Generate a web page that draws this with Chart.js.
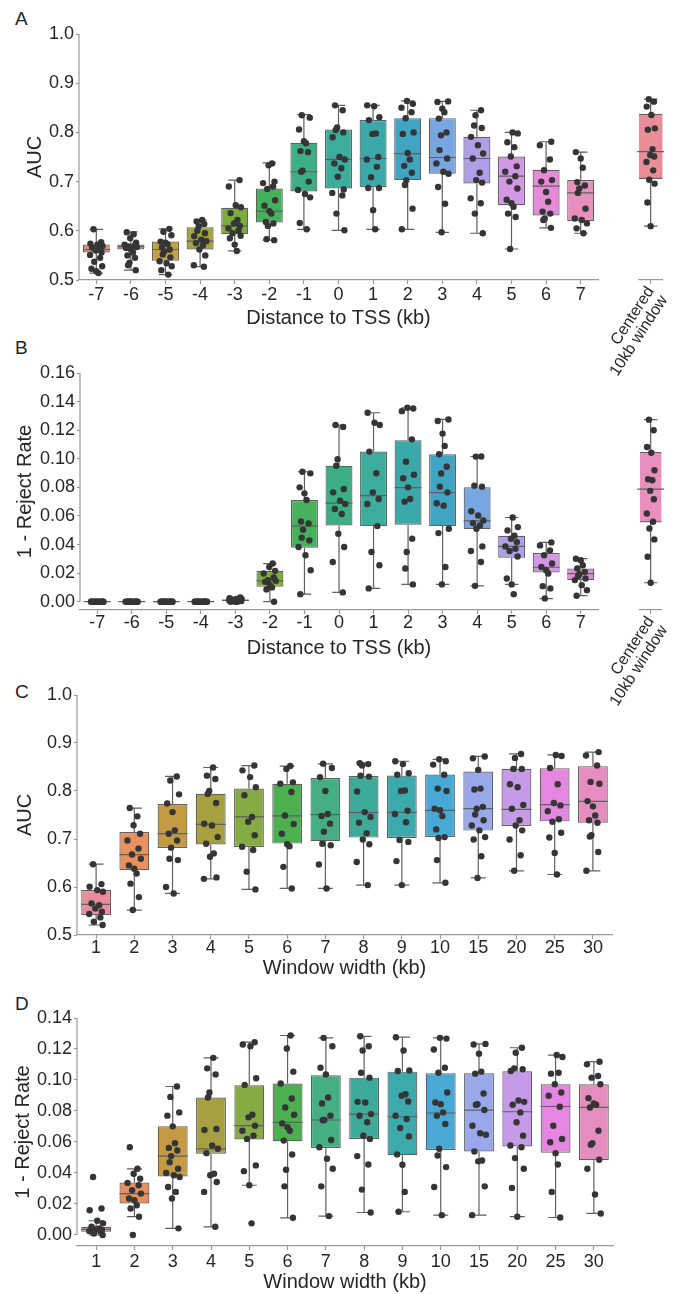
<!DOCTYPE html>
<html>
<head>
<meta charset="utf-8">
<script src="https://cdn.jsdelivr.net/npm/chart.js@4.4.0/dist/chart.umd.min.js"></script>
<style>
  html, body { margin: 0; padding: 0; background: #fff; }
  #page { position: relative; width: 683px; height: 1294px; overflow: hidden;
          font-family: 'Liberation Sans', Arial, sans-serif; color: #262626; }
  canvas { position: absolute; }
  .letter { position: absolute; font-size: 19px; line-height: 1; }
</style>
</head>
<body>
<div id="page">
  <div class="letter" style="left:15px;top:9px">A</div>
  <div class="letter" style="left:15px;top:338px">B</div>
  <div class="letter" style="left:15px;top:682px">C</div>
  <div class="letter" style="left:15px;top:994px">D</div>

  <canvas id="aucTss" width="610" height="307" style="left:0;top:23px"></canvas>
  <canvas id="aucCenter" width="123" height="382" style="left:560px;top:23px"></canvas>
  <canvas id="rejTss" width="610" height="298" style="left:0;top:362px"></canvas>
  <canvas id="rejCenter" width="123" height="373" style="left:560px;top:362px"></canvas>
  <canvas id="aucWidth" width="624" height="296" style="left:0;top:684px"></canvas>
  <canvas id="rejWidth" width="625" height="287" style="left:0;top:1007px"></canvas>
</div>

<script>
// ---- data -------------------------------------------------------------------

const TSS_LABELS = ['-7', '-6', '-5', '-4', '-3', '-2', '-1', '0', '1', '2', '3', '4', '5', '6', '7'];
const CENTER_LABELS = [['Centered', '10kb window']];
const WIDTH_LABELS = ['1', '2', '3', '4', '5', '6', '7', '8', '9', '10', '15', '20', '25', '30'];

const AUC_TICKS = [0.5, 0.6, 0.7, 0.8, 0.9, 1.0];
const REJ_TSS_TICKS = [0, 0.02, 0.04, 0.06, 0.08, 0.10, 0.12, 0.14, 0.16];
const REJ_WIDTH_TICKS = [0, 0.02, 0.04, 0.06, 0.08, 0.10, 0.12, 0.14];

// each box: [low whisker, q1, median, q3, high whisker]
const AUC_TSS_BOX = [
  [0.514, 0.556, 0.562, 0.572, 0.603], [0.520, 0.562, 0.568, 0.572, 0.598],
  [0.511, 0.539, 0.562, 0.578, 0.604], [0.527, 0.562, 0.579, 0.607, 0.622],
  [0.559, 0.593, 0.610, 0.647, 0.703], [0.581, 0.617, 0.640, 0.686, 0.738],
  [0.603, 0.680, 0.720, 0.779, 0.836], [0.601, 0.686, 0.745, 0.806, 0.855],
  [0.603, 0.689, 0.747, 0.825, 0.855], [0.603, 0.703, 0.757, 0.829, 0.864],
  [0.597, 0.716, 0.749, 0.829, 0.863], [0.595, 0.696, 0.747, 0.791, 0.845],
  [0.563, 0.652, 0.711, 0.751, 0.800], [0.606, 0.631, 0.691, 0.724, 0.781],
  [0.595, 0.620, 0.677, 0.703, 0.760]
];
const AUC_TSS_POINTS = [
  [0.603, 0.577, 0.574, 0.572, 0.569, 0.566, 0.563, 0.56, 0.556, 0.551, 0.545, 0.537, 0.528, 0.523, 0.518, 0.514],
  [0.597, 0.593, 0.585, 0.576, 0.572, 0.57, 0.568, 0.567, 0.565, 0.562, 0.556, 0.55, 0.545, 0.535, 0.53, 0.52],
  [0.604, 0.598, 0.591, 0.578, 0.576, 0.573, 0.566, 0.562, 0.558, 0.552, 0.546, 0.538, 0.534, 0.528, 0.52, 0.511],
  [0.622, 0.619, 0.614, 0.609, 0.6, 0.595, 0.589, 0.582, 0.579, 0.575, 0.57, 0.562, 0.55, 0.53, 0.527],
  [0.703, 0.69, 0.652, 0.648, 0.636, 0.622, 0.615, 0.61, 0.605, 0.6, 0.595, 0.59, 0.585, 0.572, 0.559],
  [0.737, 0.733, 0.7, 0.697, 0.69, 0.685, 0.662, 0.651, 0.64, 0.635, 0.618, 0.615, 0.61, 0.583, 0.581],
  [0.835, 0.83, 0.806, 0.782, 0.778, 0.762, 0.76, 0.722, 0.72, 0.7, 0.683, 0.675, 0.668, 0.616, 0.603],
  [0.855, 0.845, 0.81, 0.805, 0.8, 0.79, 0.75, 0.745, 0.737, 0.727, 0.71, 0.684, 0.677, 0.672, 0.635, 0.601],
  [0.855, 0.853, 0.831, 0.825, 0.798, 0.797, 0.75, 0.745, 0.73, 0.709, 0.687, 0.687, 0.642, 0.603],
  [0.864, 0.858, 0.85, 0.841, 0.829, 0.8, 0.797, 0.758, 0.745, 0.732, 0.718, 0.703, 0.693, 0.645, 0.603],
  [0.863, 0.862, 0.848, 0.841, 0.828, 0.8, 0.794, 0.764, 0.747, 0.737, 0.72, 0.716, 0.689, 0.655, 0.597],
  [0.845, 0.835, 0.814, 0.809, 0.791, 0.774, 0.757, 0.747, 0.718, 0.703, 0.698, 0.666, 0.656, 0.635, 0.595],
  [0.8, 0.798, 0.78, 0.77, 0.751, 0.731, 0.72, 0.711, 0.7, 0.686, 0.663, 0.656, 0.649, 0.635, 0.628, 0.563],
  [0.781, 0.774, 0.745, 0.723, 0.703, 0.7, 0.679, 0.659, 0.639, 0.635, 0.625, 0.622, 0.606],
  [0.76, 0.747, 0.728, 0.699, 0.692, 0.686, 0.677, 0.645, 0.625, 0.622, 0.615, 0.605, 0.595]
];
const AUC_CENTER_BOX = [[0.609, 0.705, 0.760, 0.836, 0.866]];
const AUC_CENTER_POINTS = [[0.866, 0.861, 0.851, 0.834, 0.807, 0.804, 0.765, 0.753, 0.75, 0.739, 0.722, 0.703, 0.695, 0.657, 0.609]];

const REJ_TSS_BOX = [
  [0, 0, 0, 0, 0], [0, 0, 0, 0, 0], [0, 0, 0, 0, 0], [0, 0, 0, 0, 0],
  [0, 0.0005, 0.001, 0.0015, 0.003], [0, 0.0104, 0.0146, 0.0216, 0.0267],
  [0.0053, 0.0378, 0.0529, 0.0712, 0.0909], [0.0065, 0.0533, 0.0689, 0.0951, 0.1236],
  [0.0093, 0.0529, 0.0742, 0.105, 0.1322], [0.0121, 0.0538, 0.0798, 0.1129, 0.1357],
  [0.0121, 0.0529, 0.0763, 0.1032, 0.1275], [0.0111, 0.0508, 0.0566, 0.08, 0.1016],
  [0.0121, 0.0308, 0.0387, 0.0461, 0.0589], [0.0021, 0.0204, 0.0241, 0.0341, 0.0415],
  [0.0042, 0.0151, 0.0197, 0.0232, 0.0301]
];
const REJ_TSS_POINTS = [
  [0, 0, 0, 0, 0, 0, 0, 0, 0, 0, 0, 0, 0, 0, 0],
  [0, 0, 0, 0, 0, 0, 0, 0, 0, 0, 0, 0, 0, 0, 0],
  [0, 0, 0, 0, 0, 0, 0, 0, 0, 0, 0, 0, 0, 0, 0],
  [0, 0, 0, 0, 0, 0, 0, 0, 0, 0, 0, 0, 0, 0, 0],
  [0.003, 0.0025, 0.002, 0.002, 0.0015, 0.0015, 0.001, 0.001, 0.001, 0.001, 0.0005, 0.0005, 0, 0, 0],
  [0.0267, 0.0243, 0.0216, 0.0197, 0.0169, 0.0151, 0.0146, 0.0139, 0.0116, 0.01, 0.0086, 0],
  [0.0909, 0.0898, 0.08, 0.0758, 0.0712, 0.0561, 0.0547, 0.0503, 0.0448, 0.0429, 0.0383, 0.0325, 0.022, 0.0053],
  [0.1236, 0.1223, 0.0997, 0.0951, 0.0788, 0.0765, 0.0707, 0.0684, 0.0649, 0.0614, 0.0475, 0.0383, 0.0278, 0.0065],
  [0.1322, 0.1252, 0.1236, 0.105, 0.0899, 0.0765, 0.0719, 0.0684, 0.0529, 0.0348, 0.0255, 0.0093],
  [0.1357, 0.1352, 0.1333, 0.1136, 0.0979, 0.0888, 0.0864, 0.08, 0.0719, 0.07, 0.0441, 0.0348, 0.0232, 0.0121],
  [0.1275, 0.1264, 0.1176, 0.109, 0.1032, 0.0944, 0.0897, 0.0805, 0.0765, 0.0689, 0.0672, 0.051, 0.048, 0.0243, 0.0121],
  [0.1016, 0.1015, 0.0812, 0.0805, 0.0633, 0.0603, 0.0568, 0.055, 0.0533, 0.051, 0.0387, 0.0355, 0.0278, 0.0111],
  [0.0589, 0.0522, 0.0499, 0.0461, 0.044, 0.0417, 0.0387, 0.0371, 0.0355, 0.0316, 0.0162, 0.0121, 0.0053],
  [0.0415, 0.0394, 0.0359, 0.0325, 0.0267, 0.0243, 0.022, 0.0197, 0.0109, 0.0093, 0.0023],
  [0.0301, 0.029, 0.0255, 0.0232, 0.0209, 0.0192, 0.0179, 0.0162, 0.0151, 0.0116, 0.0081, 0.0042]
];
const REJ_CENTER_BOX = [[0.0132, 0.0554, 0.0784, 0.1041, 0.1268]];
const REJ_CENTER_POINTS = [[0.1268, 0.1194, 0.1078, 0.1037, 0.0916, 0.0853, 0.0846, 0.0772, 0.0714, 0.0614, 0.0557, 0.051, 0.0434, 0.0313, 0.0132]];

const AUC_WIDTH_BOX = [
  [0.5208, 0.5416, 0.5637, 0.5935, 0.6475], [0.552, 0.635, 0.6676, 0.7147, 0.7645],
  [0.5866, 0.6814, 0.7112, 0.7729, 0.8303], [0.617, 0.6884, 0.7306, 0.7943, 0.849],
  [0.595, 0.6835, 0.746, 0.805, 0.853], [0.597, 0.6904, 0.748, 0.815, 0.852],
  [0.597, 0.6953, 0.7507, 0.8269, 0.8567], [0.6039, 0.7029, 0.7549, 0.831, 0.8587],
  [0.6039, 0.7022, 0.7556, 0.8324, 0.862], [0.6087, 0.7043, 0.7597, 0.8345, 0.8657],
  [0.619, 0.7175, 0.7632, 0.8407, 0.872], [0.6337, 0.7271, 0.7618, 0.8463, 0.8774],
  [0.626, 0.7368, 0.7715, 0.8476, 0.8753], [0.6337, 0.7341, 0.7784, 0.8518, 0.8809]
];
const AUC_WIDTH_POINTS = [
  [0.6475, 0.606, 0.6004, 0.5935, 0.59, 0.5658, 0.5623, 0.5554, 0.5485, 0.5436, 0.5367, 0.5277, 0.5208],
  [0.7645, 0.7472, 0.7285, 0.711, 0.697, 0.68, 0.6676, 0.659, 0.645, 0.638, 0.628, 0.607, 0.579, 0.552],
  [0.8303, 0.822, 0.793, 0.774, 0.756, 0.718, 0.711, 0.697, 0.682, 0.659, 0.656, 0.6, 0.5866],
  [0.849, 0.832, 0.825, 0.8, 0.794, 0.775, 0.732, 0.728, 0.704, 0.69, 0.67, 0.663, 0.62, 0.617],
  [0.853, 0.843, 0.829, 0.808, 0.791, 0.746, 0.736, 0.708, 0.684, 0.677, 0.632, 0.595],
  [0.852, 0.846, 0.818, 0.815, 0.798, 0.749, 0.731, 0.711, 0.689, 0.685, 0.642, 0.597],
  [0.857, 0.848, 0.829, 0.8, 0.752, 0.748, 0.732, 0.715, 0.69, 0.687, 0.647, 0.597],
  [0.858, 0.856, 0.853, 0.832, 0.83, 0.799, 0.756, 0.746, 0.734, 0.712, 0.699, 0.689, 0.652, 0.604],
  [0.862, 0.856, 0.837, 0.834, 0.801, 0.8, 0.759, 0.752, 0.735, 0.698, 0.694, 0.654, 0.604],
  [0.866, 0.862, 0.855, 0.834, 0.805, 0.8, 0.763, 0.76, 0.748, 0.72, 0.704, 0.702, 0.656, 0.609],
  [0.872, 0.868, 0.844, 0.805, 0.803, 0.767, 0.763, 0.751, 0.739, 0.728, 0.718, 0.704, 0.699, 0.664, 0.619],
  [0.877, 0.869, 0.846, 0.846, 0.814, 0.808, 0.771, 0.763, 0.739, 0.728, 0.718, 0.699, 0.666, 0.634],
  [0.875, 0.873, 0.848, 0.814, 0.775, 0.77, 0.758, 0.741, 0.736, 0.713, 0.703, 0.671, 0.626],
  [0.881, 0.874, 0.853, 0.819, 0.815, 0.779, 0.768, 0.749, 0.739, 0.734, 0.708, 0.705, 0.673, 0.634]
];

const REJ_WIDTH_BOX = [
  [0, 0.0021, 0.0036, 0.0053, 0.0092], [0.0118, 0.0203, 0.0267, 0.0338, 0.0427],
  [0.0043, 0.0378, 0.0509, 0.0701, 0.0958], [0.0053, 0.0524, 0.0556, 0.0887, 0.1143],
  [0.0321, 0.0616, 0.0705, 0.0966, 0.1244], [0.0111, 0.0605, 0.0727, 0.0977, 0.1287],
  [0.0122, 0.0562, 0.0742, 0.103, 0.1272], [0.0145, 0.062, 0.078, 0.1015, 0.1282],
  [0.015, 0.0515, 0.0763, 0.1054, 0.1276], [0.0128, 0.0549, 0.0787, 0.1043, 0.1272],
  [0.0128, 0.0539, 0.0806, 0.1043, 0.1233], [0.0118, 0.0571, 0.0795, 0.1056, 0.1208],
  [0.0113, 0.053, 0.0829, 0.0973, 0.1161], [0.0139, 0.0483, 0.0823, 0.0973, 0.1118]
];
const REJ_WIDTH_POINTS = [
  [0.0374, 0.0171, 0.016, 0.0092, 0.0075, 0.0053, 0.0043, 0.0036, 0.0032, 0.0025, 0.0021, 0.001, 0],
  [0.0566, 0.0427, 0.0395, 0.0363, 0.0336, 0.0321, 0.0289, 0.0267, 0.0235, 0.0224, 0.0192, 0.0171, 0.0118, 0],
  [0.0958, 0.0891, 0.0791, 0.077, 0.0701, 0.0592, 0.0562, 0.0545, 0.0509, 0.047, 0.0427, 0.04, 0.0385, 0.0374, 0.031, 0.0278, 0.0235, 0.0043],
  [0.1143, 0.1075, 0.1036, 0.0919, 0.0887, 0.0684, 0.0677, 0.0577, 0.0556, 0.0528, 0.0395, 0.0385, 0.0342, 0.0278, 0.0053],
  [0.1244, 0.1229, 0.1218, 0.1011, 0.0968, 0.0776, 0.0759, 0.0705, 0.0673, 0.0641, 0.062, 0.0449, 0.0412, 0.0321, 0.0075],
  [0.1287, 0.1203, 0.1054, 0.0977, 0.0881, 0.0823, 0.0776, 0.072, 0.0695, 0.0673, 0.0609, 0.0519, 0.0421, 0.0314, 0.0111],
  [0.1272, 0.1218, 0.1079, 0.1036, 0.0887, 0.0848, 0.0769, 0.0742, 0.074, 0.0613, 0.0566, 0.0492, 0.0427, 0.0314, 0.0122],
  [0.1282, 0.1218, 0.119, 0.1047, 0.1015, 0.0859, 0.0855, 0.078, 0.0769, 0.0727, 0.0641, 0.062, 0.0509, 0.0455, 0.0293, 0.0145],
  [0.1276, 0.119, 0.1062, 0.1058, 0.0908, 0.0898, 0.0861, 0.0769, 0.0748, 0.069, 0.0635, 0.052, 0.0453, 0.0278, 0.015],
  [0.1272, 0.1267, 0.1197, 0.1079, 0.1047, 0.0919, 0.0855, 0.0844, 0.0791, 0.0769, 0.0716, 0.0556, 0.0513, 0.0438, 0.031, 0.0128],
  [0.1233, 0.1229, 0.1169, 0.1054, 0.1041, 0.0913, 0.0844, 0.084, 0.0806, 0.0705, 0.0656, 0.0647, 0.0539, 0.0481, 0.0475, 0.0314, 0.0128],
  [0.1208, 0.1176, 0.1075, 0.1069, 0.1058, 0.0868, 0.0859, 0.084, 0.0791, 0.0727, 0.0641, 0.0577, 0.0566, 0.0496, 0.0427, 0.0304, 0.0118],
  [0.1161, 0.1148, 0.1041, 0.1047, 0.0973, 0.0919, 0.0898, 0.0827, 0.0705, 0.062, 0.0598, 0.0528, 0.0455, 0.0278, 0.0113],
  [0.1118, 0.1101, 0.1026, 0.1015, 0.0973, 0.0883, 0.0849, 0.084, 0.0823, 0.0673, 0.0592, 0.0583, 0.0485, 0.0427, 0.0261, 0.0139]
];

// ---- styling ----------------------------------------------------------------

const TSS_COLORS_AUC = ['#e88e76', '#d69a44', '#c2a13e', '#a3a43a', '#7cac3e', '#45b15d', '#3caf84', '#3aad9c',
                        '#3ba8a9', '#3fa5c3', '#78a6e2', '#ae9fe6', '#d497e6', '#e68bd9', '#e88fbd'];
const TSS_COLORS_REJ = ['#e98e98', '#e88e76', '#d69a44', '#c2a13e', '#a3a43a', '#7cac3e', '#45b15d', '#3caf84',
                        '#3aad9c', '#3ba8a9', '#3fa5c3', '#78a6e2', '#ae9fe6', '#d497e6', '#e68bd9'];
const WIDTH_COLORS = ['#e98c9c', '#e8905e', '#c49a45', '#a6a040', '#86ab45', '#4cb050', '#46ae83', '#3eab9a',
                      '#3ca9ad', '#49a9d6', '#99a8ea', '#c59ae6', '#e586e0', '#e68dc0'];

// strip-plot spread, in category units
const JITTER = [-0.08, 0.14, -0.17, 0.03, 0.18, -0.12, 0.08, -0.02, 0.15, -0.18, 0.11, -0.06, 0.17, -0.14, 0.0, 0.06, -0.1, 0.12, -0.04];

const INK = '#262626';
const AXIS = '#9a9a9a';
const LINE = '#606060';
const DOT = '#353535';

Chart.defaults.font.family = "'Liberation Sans', Arial, sans-serif";
Chart.defaults.color = INK;

const boxStats = new WeakMap();   // canvas -> five-number summaries

// whiskers, caps and median lines on top of each floating bar
const boxWhiskers = {
  id: 'boxWhiskers',
  afterDatasetDraw(chart, args) {
    if (args.meta.type !== 'bar') return;
    const boxes = boxStats.get(chart.canvas);
    const y = chart.scales.y;
    const ctx = chart.ctx;
    ctx.save();
    ctx.strokeStyle = LINE;
    ctx.lineWidth = 1.2;
    args.meta.data.forEach((bar, i) => {
      const [lo, q1, med, q3, hi] = boxes[i];
      const x = bar.x, half = bar.width / 2, cap = bar.width / 4;
      const pLo = y.getPixelForValue(lo), pHi = y.getPixelForValue(hi);
      const pMed = y.getPixelForValue(med);
      ctx.beginPath();
      ctx.moveTo(x, y.getPixelForValue(q3)); ctx.lineTo(x, pHi);
      ctx.moveTo(x, y.getPixelForValue(q1)); ctx.lineTo(x, pLo);
      ctx.moveTo(x - cap, pHi); ctx.lineTo(x + cap, pHi);
      ctx.moveTo(x - cap, pLo); ctx.lineTo(x + cap, pLo);
      ctx.moveTo(x - half, pMed); ctx.lineTo(x + half, pMed);
      ctx.stroke();
    });
    ctx.restore();
  }
};

// left spine running only between the first and last tick
const leftSpine = {
  id: 'leftSpine',
  beforeDatasetsDraw(chart, args, opts) {
    if (!opts.show) return;
    const y = chart.scales.y;
    const ticks = y.ticks;
    const ctx = chart.ctx;
    const x = chart.chartArea.left;
    ctx.save();
    ctx.strokeStyle = AXIS;
    ctx.lineWidth = 1.2;
    ctx.beginPath();
    ctx.moveTo(x, y.getPixelForValue(ticks[ticks.length - 1].value));
    ctx.lineTo(x, y.getPixelForValue(ticks[0].value));
    ctx.stroke();
    ctx.restore();
  }
};

function boxChart(id, c) {
  const n = c.labels.length;
  const canvas = document.getElementById(id);
  const hasY = c.yTitle != null;
  const dots = [];
  c.points.forEach((vals, i) => vals.forEach((v, k) => {
    dots.push({ x: i + JITTER[(k + 5 * i) % JITTER.length], y: v });
  }));
  boxStats.set(canvas, c.boxes);

  return new Chart(canvas, {
    type: 'bar',
    data: {
      datasets: [
        { type: 'scatter', data: dots, pointRadius: 3.2, pointHoverRadius: 3.2,
          pointBackgroundColor: DOT, pointBorderWidth: 0 },
        { type: 'bar', data: c.boxes.map((b, i) => ({ x: i, y: [b[1], b[3]] })),
          backgroundColor: c.colors, borderColor: LINE, borderWidth: 1.2, borderSkipped: false,
          grouped: false, barPercentage: 0.78, categoryPercentage: 1, barThickness: c.barWidth }
      ]
    },
    options: {
      responsive: false,
      animation: false,
      events: [],
      layout: { autoPadding: false, padding: c.padding },
      plugins: {
        legend: { display: false },
        tooltip: { enabled: false },
        leftSpine: { show: hasY }
      },
      scales: {
        x: {
          type: 'linear', offset: false,
          min: -0.5, max: n - 0.5,
          afterBuildTicks: s => { s.ticks = c.labels.map((l, i) => ({ value: i })); },
          grid: { offset: false, drawOnChartArea: false, tickLength: 4, tickColor: AXIS, tickWidth: 1.2 },
          border: { color: AXIS, width: 1.2 },
          ticks: {
            color: INK, padding: c.xTickPad, autoSkip: false,
            minRotation: c.rotate || 0, maxRotation: c.rotate || 0,
            font: { size: c.tickSize || 18, lineHeight: 1 },
            callback: v => c.labels[Math.round(v)]
          },
          title: { display: !!c.xTitle, text: c.xTitle || '', color: INK, padding: 0, font: { size: 20 } },
          afterFit: s => { s.height = c.xHeight; }
        },
        y: {
          display: hasY,
          min: c.min, max: c.max,
          afterBuildTicks: s => { s.ticks = c.ticks.map(v => ({ value: v })); },
          grid: { drawOnChartArea: false, tickLength: 3, tickColor: AXIS, tickWidth: 1.2 },
          border: { display: false },
          ticks: { color: INK, padding: 2, font: { size: 18, lineHeight: 1 },
                   callback: v => v.toFixed(c.digits) },
          title: { display: hasY, text: c.yTitle || '', color: INK,
                   padding: { top: c.yTitlePad || 0, bottom: 0 }, font: { size: 20 } },
          afterFit: s => { if (hasY) s.width = c.yWidth; }
        }
      }
    },
    plugins: [boxWhiskers, leftSpine]
  });
}

// A: AUC against distance to the TSS
boxChart('aucTss', {
  labels: TSS_LABELS, boxes: AUC_TSS_BOX, points: AUC_TSS_POINTS, colors: TSS_COLORS_AUC,
  ticks: AUC_TICKS, min: 0.5, max: 1.0, digits: 1,
  yTitle: 'AUC', yTitlePad: 23, yWidth: 79, xTitle: 'Distance to TSS (kb)',
  xHeight: 50, xTickPad: 2, padding: { top: 10, right: 12, left: 0, bottom: 0 }
});
boxChart('aucCenter', {
  labels: CENTER_LABELS, boxes: AUC_CENTER_BOX, points: AUC_CENTER_POINTS, colors: ['#e98e98'],
  ticks: AUC_TICKS, min: 0.5, max: 1.0, digits: 1, barWidth: 27,
  xHeight: 125, xTickPad: 0, rotate: 57, tickSize: 16,
  padding: { top: 10, right: 11, left: 79, bottom: 0 }
});

// B: 1 - reject rate against distance to the TSS
boxChart('rejTss', {
  labels: TSS_LABELS, boxes: REJ_TSS_BOX, points: REJ_TSS_POINTS, colors: TSS_COLORS_REJ,
  ticks: REJ_TSS_TICKS, min: -0.0058, max: 0.16, digits: 2,
  yTitle: '1 - Reject Rate', yTitlePad: 13, yWidth: 80, xTitle: 'Distance to TSS (kb)',
  xHeight: 50, xTickPad: 0, padding: { top: 10, right: 12, left: 0, bottom: 0 }
});
boxChart('rejCenter', {
  labels: CENTER_LABELS, boxes: REJ_CENTER_BOX, points: REJ_CENTER_POINTS, colors: ['#e88fbd'],
  ticks: REJ_TSS_TICKS, min: -0.0058, max: 0.16, digits: 2, barWidth: 27,
  xHeight: 125, xTickPad: 0, rotate: 57, tickSize: 16,
  padding: { top: 10, right: 11, left: 80, bottom: 0 }
});

// C: AUC against window width
boxChart('aucWidth', {
  labels: WIDTH_LABELS, boxes: AUC_WIDTH_BOX, points: AUC_WIDTH_POINTS, colors: WIDTH_COLORS,
  ticks: AUC_TICKS, min: 0.5, max: 1.0, digits: 1,
  yTitle: 'AUC', yTitlePad: 13, yWidth: 77, xTitle: 'Window width (kb)',
  xHeight: 45, xTickPad: 0, padding: { top: 10, right: 12, left: 0, bottom: 0 }
});

// D: 1 - reject rate against window width
boxChart('rejWidth', {
  labels: WIDTH_LABELS, boxes: REJ_WIDTH_BOX, points: REJ_WIDTH_POINTS, colors: WIDTH_COLORS,
  ticks: REJ_WIDTH_TICKS, min: -0.0071, max: 0.14, digits: 2,
  yTitle: '1 - Reject Rate', yTitlePad: 11, yWidth: 77, xTitle: 'Window width (kb)',
  xHeight: 48, xTickPad: 3, padding: { top: 10, right: 12, left: 0, bottom: 0 }
});
</script>
</body>
</html>
